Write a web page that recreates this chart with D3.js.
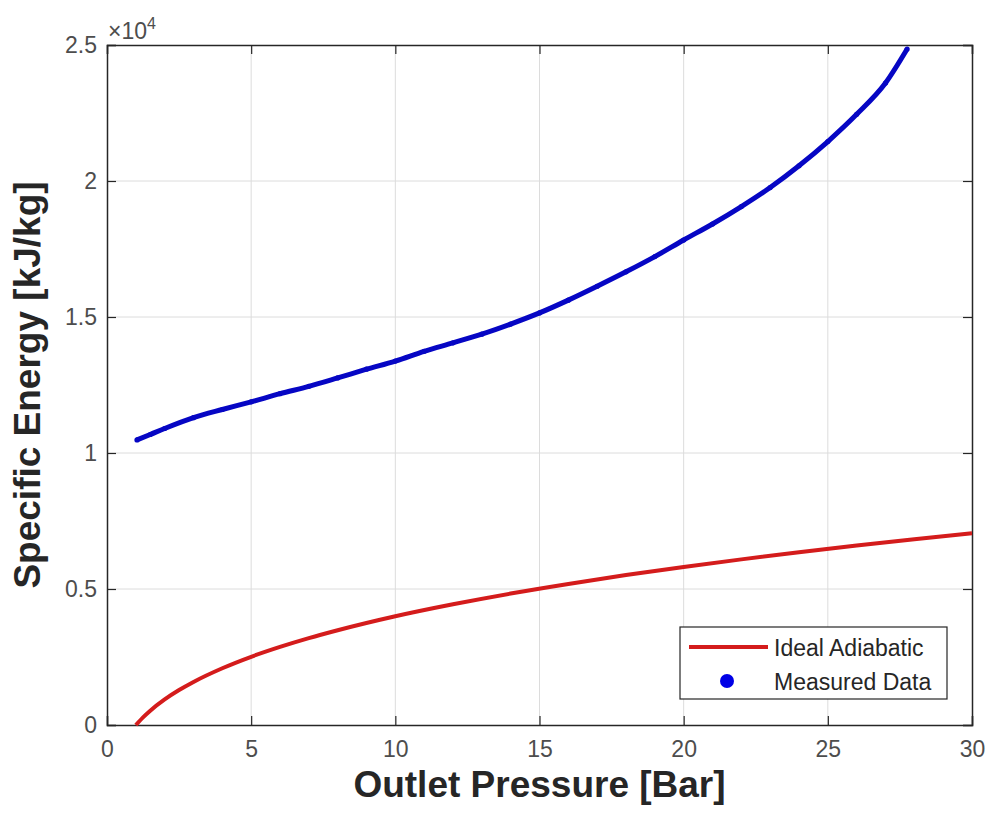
<!DOCTYPE html>
<html>
<head>
<meta charset="utf-8">
<script src="https://cdn.jsdelivr.net/npm/d3@7"></script>
<style>
  body { margin: 0; background: #fff; }
  svg text { font-family: "Liberation Sans", Arial, sans-serif; }
</style>
</head>
<body>
<div id="chart"></div>
<script>
// ------------------------------------------------------------------
//  specific energy vs outlet pressure
// ------------------------------------------------------------------

// ideal adiabatic curve
const idealP = [1, 1.25, 1.5, 2, 2.5, 3, 4, 5, 6, 7, 8, 10, 12, 14, 16, 18, 20, 22, 24, 26, 28, 30]
const idealE = [0, 283, 527, 941, 1285, 1583, 2086, 2508, 2870, 3193, 3483, 3998, 4438, 4832, 5185, 5511, 5810, 6089, 6350, 6596, 6830, 7050]

// measured data
const measuredP = [1.04, 1.5, 2, 3, 4, 5, 6, 7, 8, 9, 10, 11, 12, 13, 14, 15, 16, 17, 18, 19, 20, 21, 22, 23, 24, 25, 26, 27, 27.75]
const measuredE = [10480, 10680, 10900, 11300, 11600, 11880, 12180, 12450, 12760, 13080, 13380, 13740, 14050, 14370, 14740, 15150, 15620, 16130, 16660, 17220, 17830, 18420, 19060, 19760, 20560, 21450, 22450, 23600, 24850]

// tick labels
const xTicks = [0, 5, 10, 15, 20, 25, 30]
const yTicks = [0, 5000, 10000, 15000, 20000, 25000]
const yTickLabels = ["0", "0.5", "1", "1.5", "2", "2.5"]

const margin = { top: 45, right: 20, bottom: 98, left: 107 }
const width = 992 - margin.left - margin.right
const height = 823 - margin.top - margin.bottom

const axisColor = "#262626"
const tickColor = "#4d4d4d"

const svg = d3.select("#chart").append("svg")
    .attr("width", 992)
    .attr("height", 823)

const g = svg.append("g")
    .attr("transform", "translate(" + margin.left + "," + margin.top + ")")

const x = d3.scaleLinear().domain([0, 30]).range([0, width])
const y = d3.scaleLinear().domain([0, 25000]).range([height, 0])

// grid
g.append("g").selectAll("line")
    .data(xTicks.slice(1, -1))
    .enter().append("line")
    .attr("x1", d => x(d)).attr("x2", d => x(d))
    .attr("y1", 0).attr("y2", height)
    .attr("stroke", "#dcdcdc").attr("stroke-width", 1)

g.append("g").selectAll("line")
    .data(yTicks.slice(1, -1))
    .enter().append("line")
    .attr("y1", d => y(d)).attr("y2", d => y(d))
    .attr("x1", 0).attr("x2", width)
    .attr("stroke", "#dcdcdc").attr("stroke-width", 1)

// axes with inward ticks
const xAxis = g.append("g")
    .attr("transform", "translate(0," + height + ")")
    .call(d3.axisBottom(x).tickValues(xTicks).tickSize(-9).tickPadding(16))
const xAxisTop = g.append("g")
    .call(d3.axisTop(x).tickValues(xTicks).tickSize(-9).tickFormat(""))
const yAxis = g.append("g")
    .call(d3.axisLeft(y).tickValues(yTicks).tickSize(-9).tickPadding(10)
        .tickFormat((d, i) => yTickLabels[i]))
const yAxisRight = g.append("g")
    .attr("transform", "translate(" + width + ",0)")
    .call(d3.axisRight(y).tickValues(yTicks).tickSize(-9).tickFormat(""))

;[xAxis, xAxisTop, yAxis, yAxisRight].forEach(a => {
    a.select(".domain").attr("stroke", axisColor).attr("stroke-width", 1.5)
    a.selectAll(".tick line").attr("stroke", axisColor).attr("stroke-width", 1.2)
    a.selectAll(".tick text")
        .attr("fill", tickColor)
        .style("font-size", "23px")
})

// ideal adiabatic line
const idealData = idealP.map((p, i) => ({ p: p, e: idealE[i] }))
g.append("path")
    .datum(idealData)
    .attr("fill", "none")
    .attr("stroke", "#d41c1c")
    .attr("stroke-width", 4)
    .attr("d", d3.line().x(d => x(d.p)).y(d => y(d.e)).curve(d3.curveMonotoneX))

// measured data (dense scatter drawn as a band of points)
const measuredData = measuredP.map((p, i) => ({ p: p, e: measuredE[i] }))
g.append("path")
    .datum(measuredData)
    .attr("fill", "none")
    .attr("stroke", "#0606c4")
    .attr("stroke-width", 5)
    .attr("d", d3.line().x(d => x(d.p)).y(d => y(d.e)).curve(d3.curveMonotoneX))
g.selectAll(".pt")
    .data(measuredData)
    .enter().append("circle")
    .attr("class", "pt")
    .attr("cx", d => x(d.p))
    .attr("cy", d => y(d.e))
    .attr("r", 2.6)
    .attr("fill", "#0606c4")

// exponent label
const expo = svg.append("text")
    .attr("x", margin.left + 1)
    .attr("y", margin.top - 6)
    .attr("fill", tickColor)
    .style("font-size", "23px")
expo.append("tspan").text("\u00d710")
expo.append("tspan").attr("dy", -10).style("font-size", "16px").text("4")

// axis labels
svg.append("text")
    .attr("x", margin.left + width / 2)
    .attr("y", 797)
    .attr("text-anchor", "middle")
    .attr("fill", axisColor)
    .style("font-size", "37px")
    .style("font-weight", "bold")
    .text("Outlet Pressure [Bar]")

svg.append("text")
    .attr("transform", "translate(40," + (margin.top + height / 2) + ") rotate(-90)")
    .attr("text-anchor", "middle")
    .attr("fill", axisColor)
    .style("font-size", "37px")
    .style("font-weight", "bold")
    .text("Specific Energy [kJ/kg]")

// legend
const legend = svg.append("g").attr("transform", "translate(680,627)")
legend.append("rect")
    .attr("width", 267).attr("height", 72)
    .attr("fill", "#fff")
    .attr("stroke", axisColor).attr("stroke-width", 1.2)
legend.append("line")
    .attr("x1", 9).attr("x2", 88).attr("y1", 20).attr("y2", 20)
    .attr("stroke", "#d41c1c").attr("stroke-width", 4)
legend.append("circle")
    .attr("cx", 47).attr("cy", 54).attr("r", 7)
    .attr("fill", "#0000e6")
legend.append("text")
    .attr("x", 94).attr("y", 29)
    .attr("fill", axisColor)
    .style("font-size", "23px")
    .text("Ideal Adiabatic")
legend.append("text")
    .attr("x", 94).attr("y", 63)
    .attr("fill", axisColor)
    .style("font-size", "23px")
    .text("Measured Data")
</script>
</body>
</html>
